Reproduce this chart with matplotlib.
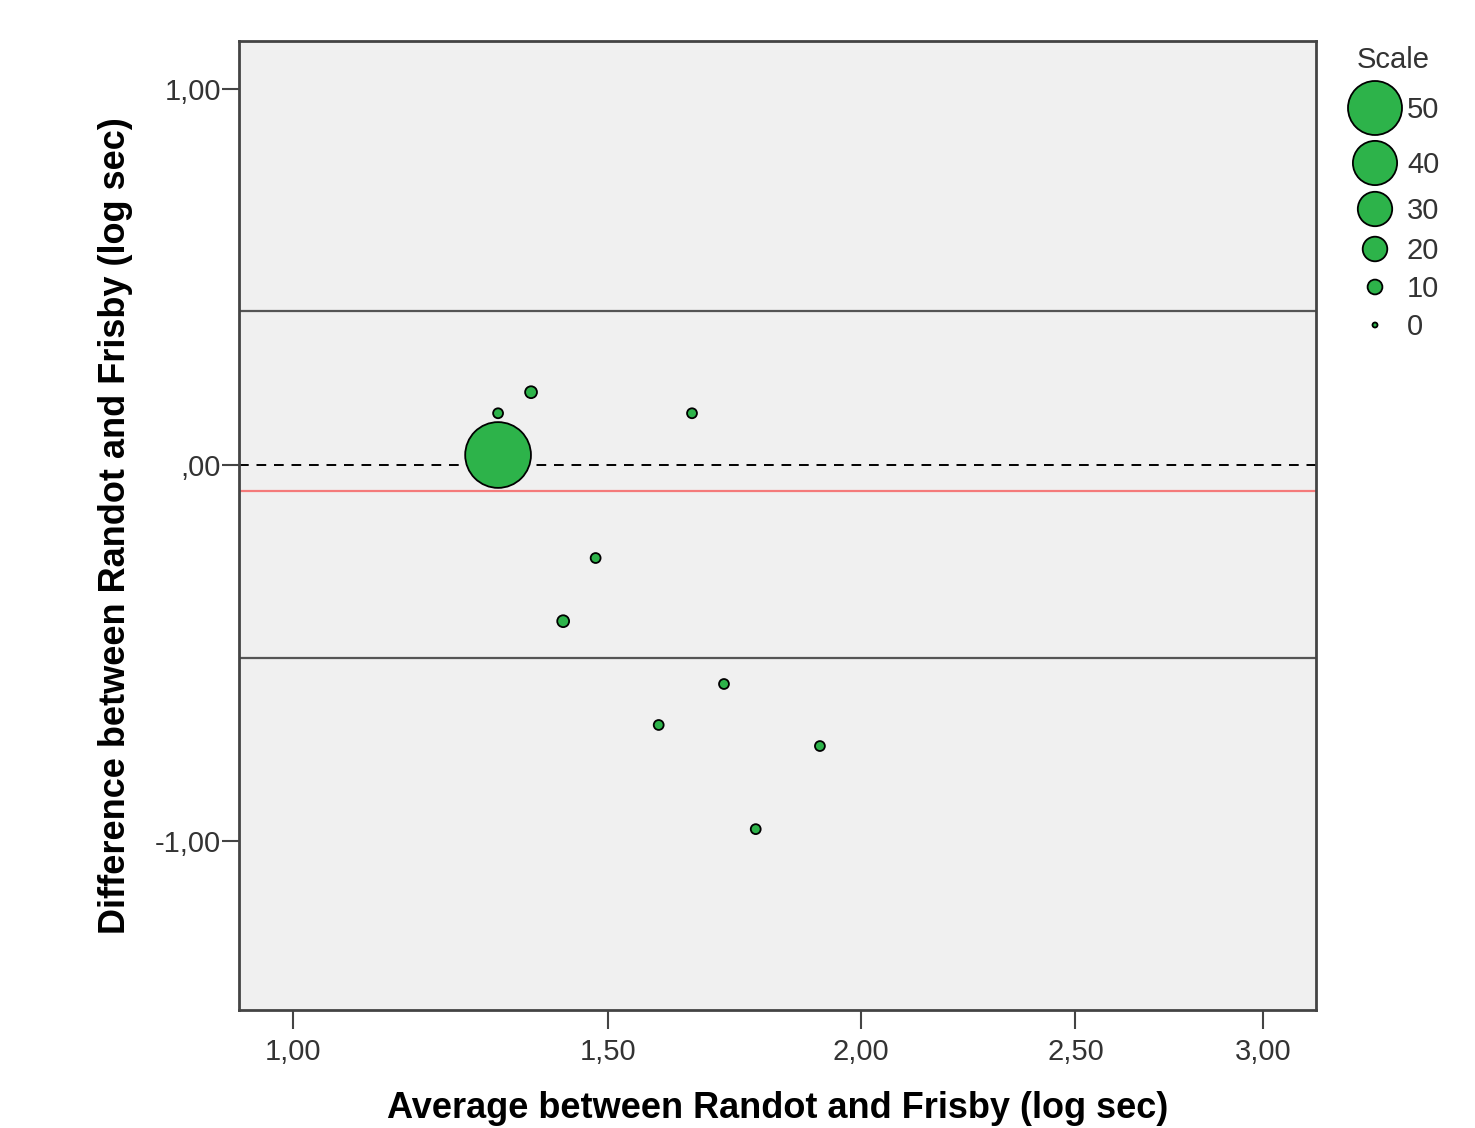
import numpy as np
import matplotlib
matplotlib.use('Agg')
import matplotlib.pyplot as plt

# data
avg = [1.31, 1.31, 1.365, 1.655, 1.477, 1.420, 1.717, 1.592, 1.912, 1.780]
diff = [0.027, 0.138, 0.194, 0.138, -0.247, -0.415, -0.582, -0.691, -0.747, -0.968]
count = [62, 5, 7, 5, 5, 7, 5, 5, 5, 5]

mean_diff = -0.069
upper_loa = 0.410
lower_loa = -0.513

x_ticks = [1.0, 1.5, 2.0, 2.5, 3.0]
x_labels = ['1,00', '1,50', '2,00', '2,50', '3,00']
y_ticks = [1.0, 0.0, -1.0]
y_labels = ['1,00', ',00', '-1,00']

legend_vals = [50, 40, 30, 20, 10, 0]

p = 0.35
def fwd(x):
    x = np.asarray(x, dtype=float)
    return np.sign(x) * np.abs(x) ** p
def inv(x):
    x = np.asarray(x, dtype=float)
    return np.sign(x) * np.abs(x) ** (1 / p)

def msize(v):
    d = 5 + 0.98 * np.asarray(v, dtype=float)  # diameter in px
    return (d * 0.72) ** 2

fam = ['Liberation Sans', 'DejaVu Sans']
green = '#2db34a'

fig = plt.figure(figsize=(14.75, 11.28), dpi=100)
ax = fig.add_axes([239 / 1475, 1 - 1010 / 1128, (1316 - 239) / 1475, (1010 - 41) / 1128])
ax.set_facecolor('#f0f0f0')
ax.set_xscale('function', functions=(fwd, inv))
ax.set_xlim(0.9273, 3.151)
ax.set_ylim(-1.449, 1.128)

ax.axhline(upper_loa, color='#555555', lw=1.6, zorder=1)
ax.axhline(lower_loa, color='#555555', lw=1.6, zorder=1)
ax.axhline(0, color='black', lw=1.4, ls=(0, (5, 4)), zorder=1)
ax.axhline(mean_diff, color='#f47a7a', lw=1.6, zorder=1)

ax.scatter(avg, diff, s=msize(count), c=green, edgecolors='black', linewidths=1.3, zorder=3)

ax.set_xticks(x_ticks)
ax.set_xticklabels(x_labels)
ax.set_yticks(y_ticks)
ax.set_yticklabels(y_labels)
ax.minorticks_off()
ax.tick_params(axis='x', length=14, width=1.5, color='#444444', pad=6, labelsize=21, labelcolor='#333333')
ax.tick_params(axis='y', length=12, width=1.5, color='#444444', pad=1, labelsize=21, labelcolor='#333333')
for lab in ax.get_xticklabels() + ax.get_yticklabels():
    lab.set_family(fam)
for sp in ax.spines.values():
    sp.set_color('#444444')
    sp.set_linewidth(2)

ax.set_xlabel('Average between Randot and Frisby (log sec)', fontsize=26, fontweight='bold',
              family=fam, labelpad=18)
ax.set_ylabel('Difference between Randot and Frisby (log sec)', fontsize=26, fontweight='bold',
              family=fam, labelpad=16)

# size legend
lax = fig.add_axes([1330 / 1475, 1 - 350 / 1128, 145 / 1475, 310 / 1128])
lax.set_xlim(1330, 1475)
lax.set_ylim(350, 40)
lax.axis('off')
leg_y = [108, 163, 209, 249, 287, 325]
lax.scatter([1375] * len(legend_vals), leg_y, s=msize(legend_vals), c=green,
            edgecolors='black', linewidths=1.3, clip_on=False)
for v, yy in zip(legend_vals, leg_y):
    lax.text(1407, yy + 2, str(v), fontsize=21, va='center', ha='left', color='#333333', family=fam)
lax.text(1393, 60, 'Scale', fontsize=21, va='center', ha='center', color='#333333', family=fam)

fig.savefig('out.png', dpi=100)
